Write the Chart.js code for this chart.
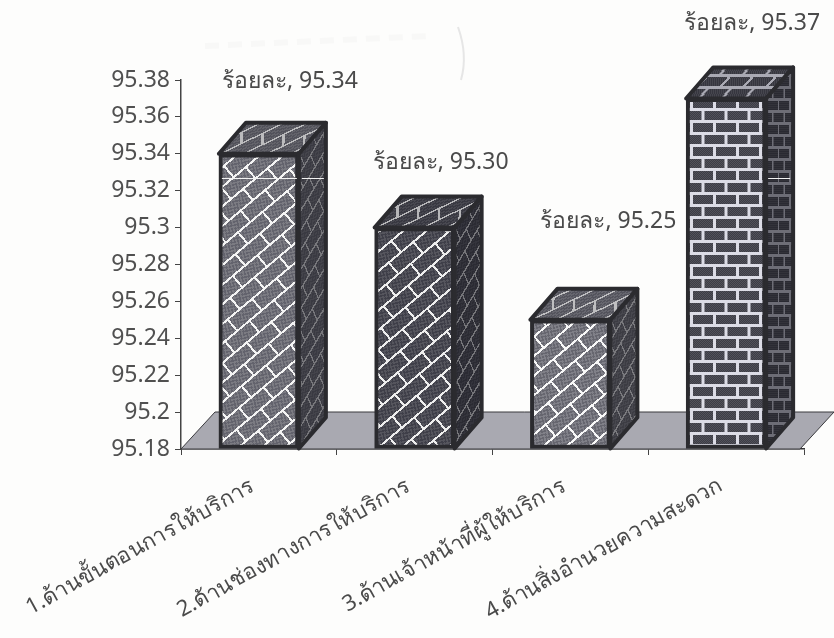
<!DOCTYPE html>
<html lang="th">
<head>
<meta charset="UTF-8">
<title>ร้อยละ</title>
<script src="https://cdn.jsdelivr.net/npm/chart.js"></script>
<style>
  html, body { margin: 0; padding: 0; background: #fdfdfc; }
  canvas { display: block; }
</style>
</head>
<body>
<canvas id="grafico" width="834" height="638"></canvas>
<script>
  // Values
  const categorias = [
    '1.ด้านขั้นตอนการให้บริการ',
    '2.ด้านช่องทางการให้บริการ',
    '3.ด้านเจ้าหน้าที่ผู้ให้บริการ',
    '4.ด้านสิ่งอำนวยความสะดวก'
  ];
  const valores = [95.34, 95.30, 95.25, 95.37];
  const rotulos = ['ร้อยละ, 95.34', 'ร้อยละ, 95.30', 'ร้อยละ, 95.25', 'ร้อยละ, 95.37'];

  const eixoMin = 95.18;
  const eixoMax = 95.38;
  const eixoPasso = 0.02;

  // Where each value label sits relative to the bar top
  const deslocRotulos = [[31, -72], [26, -65], [38, -98], [26, -75]];

  const FONTE = '"Noto Sans", "DejaVu Sans", sans-serif';
  const PROF_X = 27, PROF_Y = 31;      // bar depth
  const PISO_X = 34, PISO_Y = 37;      // floor depth

  // Running-bond tile: two rows of bricks with mortar lines
  function tijolo(L, H, m, cor1, cor2, massa) {
    const c = document.createElement('canvas');
    c.width = L * 2;
    c.height = H * 2;
    const g = c.getContext('2d');
    for (let y = 0; y < c.height; y++) {
      for (let x = 0; x < c.width; x++) {
        g.fillStyle = (x + y) % 2 ? cor1 : cor2;
        g.fillRect(x, y, 1, 1);
      }
    }
    g.fillStyle = massa;
    g.fillRect(0, 0, c.width, m);
    g.fillRect(0, H, c.width, m);
    g.fillRect(0, 0, m, H);
    g.fillRect(L, 0, m, H);
    g.fillRect(L / 2, H, m, H);
    g.fillRect(L + L / 2, H, m, H);
    return c;
  }

  const ctxAux = document.createElement('canvas').getContext('2d');

  function padrao(tile, matriz) {
    const p = ctxAux.createPattern(tile, 'repeat');
    p.setTransform(matriz);
    return p;
  }

  const diag = new DOMMatrix().rotate(-40);
  const tiles = [
    tijolo(32, 15, 2, '#63636d', '#7b7b82', '#f4f4f4'),
    tijolo(32, 15, 2, '#3f3f49', '#55555d', '#eeeeee'),
    tijolo(32, 15, 2, '#66666f', '#808088', '#f8f8f8'),
    tijolo(23, 12, 3, '#3c3c46', '#52525a', '#dcdce6')
  ];
  const matrizes = [diag, diag, diag, new DOMMatrix()];
  const frente = tiles.map((t, i) => padrao(t, matrizes[i]));

  // Floor under the bars, plus the faint marks on the paper above them
  const pisoPlugin = {
    id: 'piso',
    beforeDatasetsDraw(chart) {
      const { ctx, chartArea: a } = chart;
      const direita = a.right - 4;
      ctx.save();

      ctx.strokeStyle = '#e6e6e6';
      ctx.lineWidth = 2;
      ctx.beginPath();
      ctx.moveTo(458, 27);
      ctx.quadraticCurveTo(468, 55, 461, 80);
      ctx.stroke();
      ctx.lineWidth = 6;
      ctx.setLineDash([14, 9]);
      ctx.strokeStyle = '#f8f8f7';
      ctx.beginPath();
      ctx.moveTo(205, 46);
      ctx.lineTo(430, 36);
      ctx.stroke();
      ctx.setLineDash([]);

      ctx.fillStyle = '#a9a9b1';
      ctx.strokeStyle = '#3a3a3e';
      ctx.lineWidth = 1;
      ctx.beginPath();
      ctx.moveTo(a.left, a.bottom);
      ctx.lineTo(a.left + PISO_X, a.bottom - PISO_Y);
      ctx.lineTo(direita + PISO_X, a.bottom - PISO_Y);
      ctx.lineTo(direita, a.bottom);
      ctx.closePath();
      ctx.fill();
      ctx.stroke();
      ctx.restore();
      // stays off for the bars drawn next, so the diagonal mortar comes out stepped
      ctx.imageSmoothingEnabled = false;
    }
  };

  // Chart.js has no 3D bars, so the top and the side are added to each bar
  const caixaPlugin = {
    id: 'caixa',
    afterDatasetsDraw(chart) {
      const { ctx } = chart;
      const y = chart.scales.y;
      const barras = chart.getDatasetMeta(0).data;
      ctx.save();
      ctx.imageSmoothingEnabled = false;
      ctx.lineJoin = 'round';
      ctx.strokeStyle = '#2b2b2f';
      ctx.lineWidth = 4;
      barras.forEach((b, i) => {
        const esq = b.x - b.width / 2;
        const dir = b.x + b.width / 2;
        const topo = b.y;
        const base = b.base;

        // top face
        ctx.beginPath();
        ctx.moveTo(esq, topo);
        ctx.lineTo(esq + PROF_X, topo - PROF_Y);
        ctx.lineTo(dir + PROF_X, topo - PROF_Y);
        ctx.lineTo(dir, topo);
        ctx.closePath();
        ctx.fillStyle = padrao(tiles[i], new DOMMatrix([1, 0, -PROF_X / PROF_Y, 1, esq, topo]).multiply(matrizes[i]));
        ctx.fill();
        ctx.fillStyle = 'rgba(40,40,48,0.28)';
        ctx.fill();
        ctx.stroke();

        // side face
        ctx.beginPath();
        ctx.moveTo(dir, topo);
        ctx.lineTo(dir + PROF_X, topo - PROF_Y);
        ctx.lineTo(dir + PROF_X, base - PROF_Y);
        ctx.lineTo(dir, base);
        ctx.closePath();
        ctx.fillStyle = padrao(tiles[i], new DOMMatrix([0.5, 0, 0, 1, dir, topo]).multiply(matrizes[i]));
        ctx.fill();
        ctx.fillStyle = 'rgba(30,30,36,0.58)';
        ctx.fill();
        ctx.stroke();
      });

      // thin pale streaks across the first and last bars
      const yRisco = Math.round(y.getPixelForValue(95.327)) + 0.5;
      ctx.strokeStyle = '#f2f2f2';
      ctx.lineWidth = 1;
      const b0 = barras[0], b3 = barras[3];
      [[b0.x - 37, b0.x + 38], [b0.x + 43, b0.x + 65], [b3.x + 42, b3.x + 64]].forEach(([x1, x2]) => {
        ctx.beginPath();
        ctx.moveTo(x1, yRisco);
        ctx.lineTo(x2, yRisco);
        ctx.stroke();
      });

      // value labels
      ctx.fillStyle = '#4a4a4a';
      ctx.font = '23px ' + FONTE;
      ctx.textAlign = 'center';
      ctx.textBaseline = 'middle';
      barras.forEach((b, i) => {
        ctx.fillText(rotulos[i], b.x + deslocRotulos[i][0], b.y + deslocRotulos[i][1]);
      });
      ctx.restore();
    }
  };

  new Chart(document.getElementById('grafico'), {
    type: 'bar',
    data: {
      labels: categorias,
      datasets: [{
        data: valores,
        base: eixoMin,
        backgroundColor: frente,
        borderColor: '#2b2b2f',
        borderWidth: 4,
        borderSkipped: false,
        barThickness: 80
      }]
    },
    options: {
      responsive: false,
      animation: false,
      layout: { padding: { top: 80, right: 30 } },
      plugins: {
        legend: { display: false },
        tooltip: { enabled: false }
      },
      scales: {
        x: {
          grid: { drawOnChartArea: false, tickLength: 6, color: '#444' },
          border: { color: '#333', width: 1.5 },
          afterFit(scale) {
            scale.height = 189;
            // the long rotated labels must not push the plot to the right
            scale.paddingLeft = 0;
            scale.paddingRight = 0;
          },
          ticks: {
            color: '#4a4a4a',
            font: { family: FONTE, size: 22 },
            minRotation: 29,
            maxRotation: 29,
            autoSkip: false,
            padding: 18,
            labelOffset: -6
          }
        },
        y: {
          min: eixoMin,
          max: eixoMax,
          grid: { drawOnChartArea: false, tickLength: 6, color: '#444' },
          border: { color: '#444', width: 1.5 },
          afterFit(scale) { scale.width = 181; },
          ticks: {
            stepSize: eixoPasso,
            color: '#505050',
            padding: 5,
            font: { family: FONTE, size: 23 },
            callback: v => String(Number(v.toFixed(2)))
          }
        }
      }
    },
    plugins: [pisoPlugin, caixaPlugin]
  });
</script>
</body>
</html>
